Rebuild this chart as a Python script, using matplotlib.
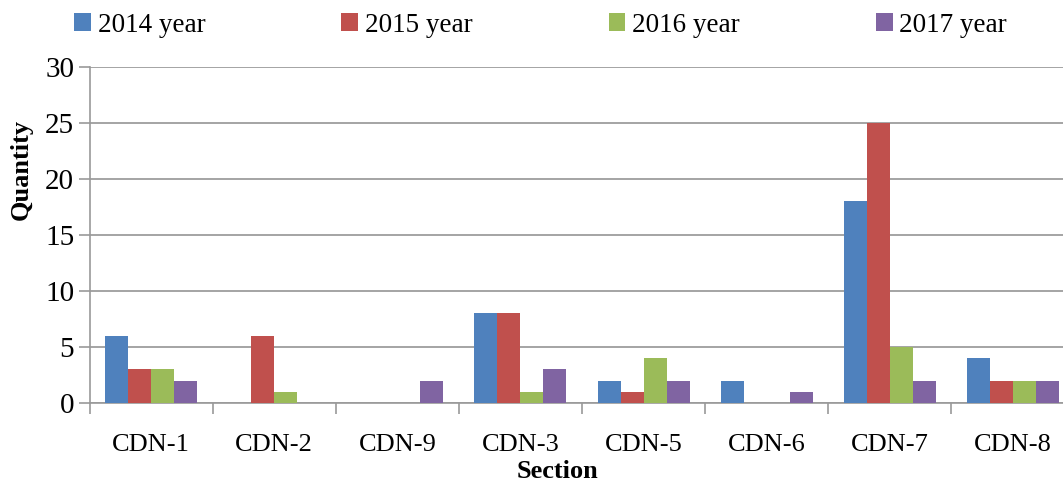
import numpy as np
import matplotlib.pyplot as plt

sections = ['CDN-1', 'CDN-2', 'CDN-9', 'CDN-3', 'CDN-5', 'CDN-6', 'CDN-7', 'CDN-8']
y2014 = [6, 0, 0, 8, 2, 2, 18, 4]
y2015 = [3, 6, 0, 8, 1, 0, 25, 2]
y2016 = [3, 1, 0, 1, 4, 0, 5, 2]
y2017 = [2, 0, 2, 3, 2, 1, 2, 2]
labels = ['2014 year', '2015 year', '2016 year', '2017 year']
colors = ['#4F81BD', '#C0504D', '#9BBB59', '#8064A2']

plt.rcParams['font.family'] = ['Liberation Serif', 'DejaVu Serif']

fig = plt.figure(figsize=(10.63, 4.82), dpi=100)
# axes right edge runs slightly past the image, as in the reference
ax = fig.add_axes([89.5 / 1063, 1 - 403 / 482, 985 / 1063, 336.5 / 482])

x = np.arange(len(sections))
w = 0.187
for i, vals in enumerate([y2014, y2015, y2016, y2017]):
    ax.bar(x + (i - 1.5) * w, vals, w, color=colors[i], label=labels[i], zorder=3)

ax.set_xlim(-0.5, len(sections) - 0.5)
ax.set_ylim(0, 30)
ax.set_yticks(range(0, 31, 5))
ax.set_xticks(x)
ax.set_xticklabels(sections, fontsize=19)
ax.set_xticks(np.arange(-0.5, len(sections), 1), minor=True)
ax.tick_params(axis='x', which='major', length=0, pad=22)
ax.tick_params(axis='x', which='minor', length=8, width=1.2, color='#999999', direction='out')
ax.tick_params(axis='y', labelsize=21, length=8, width=1.2, color='#999999', pad=3)
ax.grid(axis='y', color='#8c8c8c', linewidth=1.1, zorder=0)
for s in ['top', 'right']:
    ax.spines[s].set_visible(False)
for s in ['left', 'bottom']:
    ax.spines[s].set_color('#999999')
    ax.spines[s].set_linewidth(1.2)

# axis titles placed where the reference has them (y title sits above centre)
fig.text(21 / 1063, 1 - 169 / 482, 'Quantity', fontsize=19, fontweight='bold',
         rotation=90, ha='center', va='center')
fig.text(558 / 1063, 1 - 472 / 482, 'Section', fontsize=19, fontweight='bold', ha='center', va='center')

fig.legend(loc='center left', bbox_to_anchor=(74 / 1063, 1 - 25 / 482, 933 / 1063, 0),
           mode='expand', ncol=4, frameon=False, fontsize=19.5, borderpad=0, borderaxespad=0,
           handlelength=0.62, handleheight=0.62, handletextpad=0.25)

fig.savefig('out.png', dpi=100)
